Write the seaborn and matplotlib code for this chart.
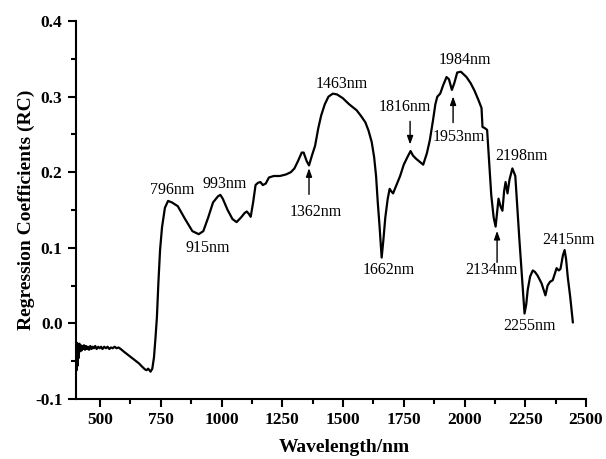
import numpy as np
import pandas as pd
import seaborn as sns
import matplotlib.pyplot as plt

# wavelength (nm) and regression coefficients
wavelength = [
    400, 402, 404, 406, 408, 410, 412, 415, 418, 421, 424, 427, 430, 434, 438, 442,
    446, 450, 455, 460, 465, 470, 475, 480, 486, 492, 498, 504, 510, 517, 524, 531,
    538, 545, 552, 560, 568, 576, 585, 600, 620, 640, 660, 675, 685, 692, 698, 703,
    708, 715, 722, 728, 734, 740, 747, 755, 767, 780, 796, 820, 850, 880, 906, 925,
    945, 965, 985, 995, 1005, 1025, 1045, 1062, 1080, 1095, 1104, 1112, 1120, 1130,
    1140, 1150, 1160, 1170, 1182, 1195, 1215, 1240, 1265, 1285, 1300, 1315, 1330,
    1338, 1350, 1360, 1372, 1385, 1398, 1410, 1425, 1440, 1458, 1475, 1499, 1525,
    1556, 1575, 1592, 1605, 1618, 1628, 1636, 1643, 1650, 1659, 1666, 1674, 1684,
    1692, 1698, 1706, 1720, 1735, 1750, 1765, 1778, 1788, 1800, 1815, 1830, 1845,
    1857, 1870, 1880, 1888, 1900, 1912, 1926, 1936, 1948, 1958, 1970, 1985, 2008,
    2025, 2041, 2058, 2070, 2074, 2085, 2093, 2100, 2110, 2120, 2128, 2135, 2140,
    2148, 2156, 2163, 2169, 2177, 2185, 2197, 2209, 2218, 2226, 2237, 2247, 2254,
    2260, 2270, 2281, 2290, 2301, 2317, 2333, 2342, 2352, 2363, 2372, 2379, 2388,
    2395, 2405, 2412, 2418, 2425, 2435, 2446,
]
rc = [
    -0.040, -0.052, -0.062, -0.026, -0.056, -0.030, -0.046, -0.027, -0.037, -0.029,
    -0.036, -0.030, -0.034, -0.029, -0.035, -0.030, -0.034, -0.031, -0.035, -0.030,
    -0.034, -0.031, -0.033, -0.030, -0.034, -0.031, -0.033, -0.031, -0.034, -0.031,
    -0.033, -0.031, -0.034, -0.032, -0.033, -0.031, -0.033, -0.032, -0.034, -0.038,
    -0.043, -0.048, -0.053, -0.058, -0.061, -0.062, -0.060, -0.062, -0.064, -0.060,
    -0.045, -0.020, 0.008, 0.053, 0.097, 0.127, 0.153, 0.162, 0.160, 0.155, 0.138,
    0.122, 0.118, 0.122, 0.140, 0.160, 0.168, 0.170, 0.165, 0.150, 0.138, 0.134,
    0.140, 0.146, 0.148, 0.145, 0.141, 0.160, 0.183, 0.186, 0.187, 0.183, 0.185,
    0.193, 0.195, 0.195, 0.197, 0.200, 0.205, 0.215, 0.226, 0.226, 0.215, 0.209,
    0.222, 0.235, 0.258, 0.275, 0.290, 0.300, 0.304, 0.303, 0.298, 0.290, 0.282,
    0.274, 0.266, 0.255, 0.240, 0.220, 0.195, 0.160, 0.130, 0.087, 0.110, 0.140,
    0.165, 0.178, 0.175, 0.172, 0.183, 0.195, 0.210, 0.220, 0.228, 0.222, 0.218,
    0.214, 0.210, 0.225, 0.242, 0.268, 0.290, 0.300, 0.304, 0.315, 0.326, 0.323,
    0.309, 0.318, 0.332, 0.333, 0.326, 0.318, 0.308, 0.295, 0.285, 0.260, 0.258,
    0.256, 0.220, 0.170, 0.140, 0.128, 0.150, 0.165, 0.155, 0.149, 0.175, 0.187,
    0.172, 0.190, 0.205, 0.195, 0.150, 0.110, 0.060, 0.013, 0.025, 0.044, 0.062,
    0.070, 0.068, 0.063, 0.053, 0.037, 0.050, 0.055, 0.057, 0.066, 0.073, 0.070,
    0.072, 0.090, 0.097, 0.085, 0.061, 0.035, 0.001,
]

# plain labels: (text, x, y)
labels = [
    ("796nm", 796, 0.176), ("993nm", 1011, 0.184), ("915nm", 944, 0.100),
    ("1463nm", 1496, 0.317), ("1662nm", 1689, 0.071), ("1984nm", 2002, 0.348),
    ("2198nm", 2233, 0.221), ("2415nm", 2430, 0.110), ("2255nm", 2267, -0.004),
]
# arrow labels: (text, text x, text y, arrow x, tail y, tip y)
arrows = [
    ("1362nm", 1389, 0.147, 1360, 0.167, 0.209),
    ("1816nm", 1755, 0.286, 1776, 0.271, 0.233),
    ("1953nm", 1978, 0.247, 1953, 0.262, 0.304),
    ("2134nm", 2110, 0.071, 2134, 0.077, 0.126),
]

sns.set_style("ticks")
plt.rcParams['font.family'] = ['Liberation Serif', 'DejaVu Serif']
plt.rcParams.update({"text.color": "black", "axes.labelcolor": "black",
                     "xtick.color": "black", "ytick.color": "black"})

df = pd.DataFrame({"Wavelength": wavelength, "RC": rc})

fig = plt.figure(figsize=(6.06, 4.59), dpi=100)
ax = fig.add_axes([0.125, 0.131, 0.842, 0.823])
sns.lineplot(data=df, x="Wavelength", y="RC", color="black", linewidth=1.6, ax=ax)

for text, x, y in labels:
    ax.text(x, y, text, ha="center", va="center", fontsize=11.5)

for text, tx, ty, ax_x, tail, tip in arrows:
    ax.text(tx, ty, text, ha="center", va="center", fontsize=11.5)
    ax.annotate("", xy=(ax_x, tip), xytext=(ax_x, tail),
                arrowprops=dict(arrowstyle="-|>,head_length=0.5,head_width=0.18",
                                color="black", lw=1.0))

ax.set_xlim(400, 2500)
ax.set_ylim(-0.1, 0.4)
ax.set_xticks([500, 750, 1000, 1250, 1500, 1750, 2000, 2250, 2500])
ax.set_xticks(np.arange(625, 2500, 250), minor=True)
ax.set_yticks([-0.1, 0.0, 0.1, 0.2, 0.3, 0.4])
ax.set_yticks([-0.05, 0.05, 0.15, 0.25, 0.35], minor=True)
ax.yaxis.set_major_formatter(plt.FormatStrFormatter("%.1f"))

ax.tick_params(which="major", direction="out", length=6, width=1.5,
               labelsize=12.5, color="black", labelcolor="black")
ax.tick_params(which="minor", direction="out", length=3.5, width=1.5, color="black")
for lbl in ax.get_xticklabels() + ax.get_yticklabels():
    lbl.set_fontweight("bold")

ax.set_xlabel("Wavelength/nm", fontsize=14, fontweight="bold", color="black")
ax.set_ylabel("Regression Coefficients (RC)", fontsize=14, fontweight="bold", color="black")
ax.xaxis.set_label_coords(0.526, -0.105)
ax.yaxis.set_label_coords(-0.08, 0.5)

sns.despine(ax=ax)
for side in ["left", "bottom"]:
    ax.spines[side].set_linewidth(1.5)
    ax.spines[side].set_color("black")

fig.savefig("out.png", dpi=100)
